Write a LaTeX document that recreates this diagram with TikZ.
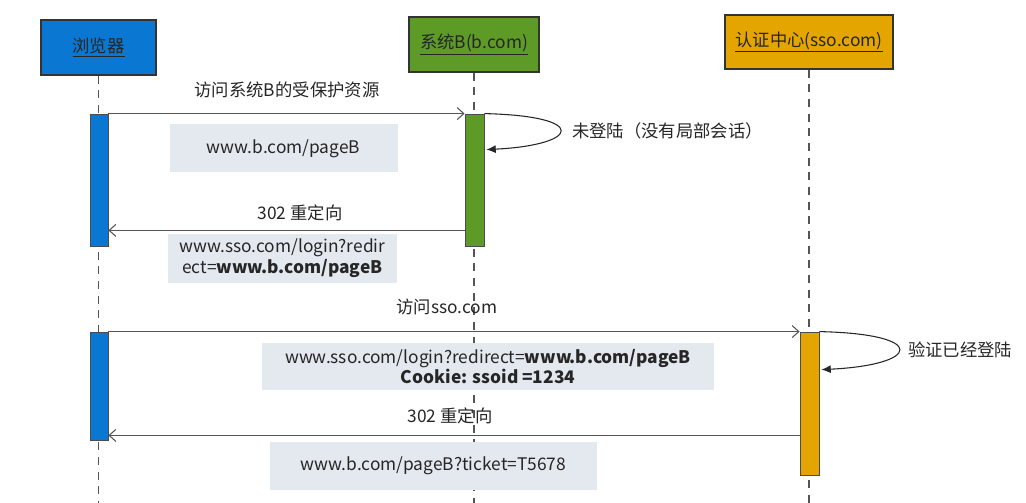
\documentclass[tikz,border=0pt]{standalone}
\usepackage{fontspec}
\setmainfont{Noto Sans CJK SC}
\usetikzlibrary{arrows.meta,calc}
\definecolor{cBlue}{HTML}{0A78D2}
\definecolor{cGreen}{HTML}{5E9A26}
\definecolor{cOrange}{HTML}{E5A500}
\definecolor{cGray}{HTML}{E4E8EF}
\definecolor{cText}{HTML}{262626}
\definecolor{cLine}{HTML}{555555}
\tikzset{
  x=0.75pt, y=-0.75pt,
  every node/.style={font=\fontsize{13}{15.5}\selectfont, text=cText, inner sep=0pt},
  head/.style={draw=black!80, line width=0.8pt, align=center, text=black!85},
  bar/.style={draw=black!70, line width=0.6pt, minimum width=13.5pt},
  info/.style={fill=cGray, align=center},
  lifeline/.style={draw=cLine, line width=0.8pt, dash pattern=on 6pt off 5pt},
  msg/.style={draw=cLine, line width=0.8pt, -{Straight Barb[length=5pt,width=9pt]}},
  loop/.style={draw=black!85, line width=0.8pt, -{Latex[length=7pt,width=6pt]}},
  lbl/.style={text=cText},
}
\begin{document}
\begin{tikzpicture}
\useasboundingbox (0,0) rectangle (1026,503);
% headers
\node[head, fill=cBlue, minimum width=86.25pt, minimum height=41.25pt] (br) at (98.5,47.5) {\underline{浏览器}};
\node[head, fill=cGreen, minimum width=97.5pt, minimum height=41.25pt] (sb) at (474,44.5) {\underline{系统B(b.com)}};
\node[head, fill=cOrange, minimum width=126pt, minimum height=40.5pt] (sso) at (809,42) {\underline{认证中心(sso.com)}};
% lifeline ends
\coordinate (brEnd) at (br.south |- 0,503);
\coordinate (sbEnd) at (sb.south |- 0,503);
\coordinate (ssoEnd) at (sso.south |- 0,503);
\draw[lifeline] (br.south) -- (brEnd);
\draw[lifeline] (sb.south) -- (sbEnd);
\draw[lifeline] (sso.south) -- (ssoEnd);
% activation bars
\node[bar, fill=cBlue, minimum height=99pt] (b1) at (99,180) {};
\node[bar, fill=cGreen, minimum height=99pt, minimum width=14.25pt] (s1) at (474.5,180) {};
\node[bar, fill=cBlue, minimum height=81pt] (b2) at (99,386) {};
\node[bar, fill=cOrange, minimum height=107.25pt, minimum width=14.25pt] (a1) at (809.5,403.5) {};
% message 1
\draw[msg] (b1.north east) -- (s1.north west);
\node[lbl] (m1) at (287,90) {访问系统B的受保护资源};
\node[info, minimum width=171pt, minimum height=36pt] (i1) at (283.5,148.5) {www.b.com/pageB};
% self loop on B
\coordinate (s1back) at ($(s1.north east)+(2,36)$);
\draw[loop] (s1.north east) .. controls (590,116) and (580,145) .. (s1back);
\node[lbl, fill=white, inner sep=1.5pt, anchor=west] (n1) at (570,131) {未登陆（没有局部会话）};
% message 2
\coordinate (r1) at ($(s1.south west)+(0,-16)$);
\draw[msg] (r1) -- (b1.east |- r1);
\node[lbl] (m2) at (300,213) {302 重定向};
\node[info, minimum width=171.75pt, minimum height=36.75pt] (i2) at (282.5,258.5) {www.sso.com/login?redir\\ect=\textbf{www.b.com/pageB}};
% message 3
\node[lbl] (m3) at (447,307) {访问sso.com};
\draw[msg] (b2.north east) -- (a1.north west);
\node[info, minimum width=339pt, minimum height=35.25pt] (i3) at (488,366.5) {www.sso.com/login?redirect=\textbf{www.b.com/pageB}\\\textbf{Cookie: ssoid =1234}};
% self loop on SSO
\coordinate (a1back) at ($(a1.north east)+(2,38)$);
\draw[loop] (a1.north east) .. controls (930,334) and (920,365) .. (a1back);
\node[lbl, fill=white, inner sep=1.5pt, anchor=west] (n2) at (906,350) {验证已经登陆};
% message 4
\coordinate (r2) at ($(b2.south east)+(0,-5)$);
\draw[msg] (a1.west |- r2) -- (r2);
\node[lbl] (m4) at (450,416) {302 重定向};
\node[info, minimum width=245.25pt, minimum height=36pt] (i4) at (433.5,466) {www.b.com/pageB?ticket=T5678};
\end{tikzpicture}
\end{document}
